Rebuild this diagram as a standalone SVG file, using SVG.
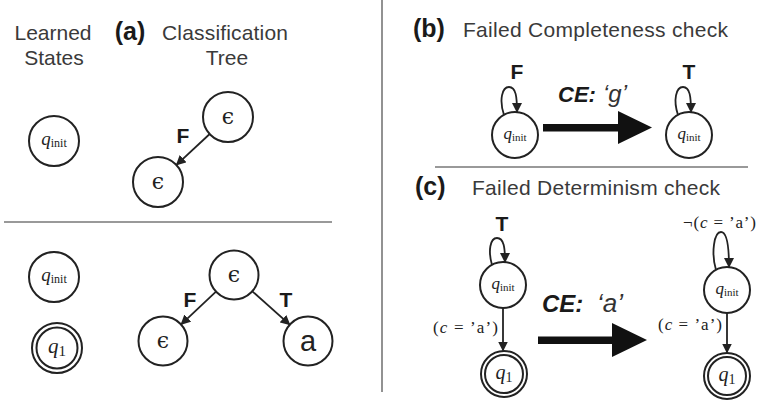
<svg xmlns="http://www.w3.org/2000/svg" width="757" height="405" viewBox="0 0 757 405">
<style>
  .title { font-family: "Liberation Sans", Arial, sans-serif; font-size: 21px; fill: #3a3a3a; }
  .bold { font-family: "Liberation Sans", Arial, sans-serif; font-weight: bold; fill: #1a1a1a; }
  .node { fill: #fff; stroke: #222; stroke-width: 2; }
  .math { font-family: "Liberation Serif", "DejaVu Serif", serif; fill: #222; }
  .eps { font-family: "DejaVu Serif", serif; font-size: 22px; fill: #222; }
  .edge { fill: none; stroke: #222; stroke-width: 1.8; }
  .div { stroke: #777; stroke-width: 1.6; }
  .big { fill: #111; }
</style>
<defs>
  <marker id="ah" markerUnits="userSpaceOnUse" markerWidth="10" markerHeight="10" viewBox="0 0 10 10" refX="9" refY="5" orient="auto">
    <path d="M0,0 L10,5 L0,10 z" fill="#222"/>
  </marker>
</defs>

<!-- dividers -->
<g id="dividers">
  <line class="div" x1="382" y1="0" x2="382" y2="392"/>
  <line class="div" x1="4" y1="222" x2="332" y2="222"/>
  <line class="div" x1="435" y1="167" x2="748" y2="167"/>
</g>

<!-- headings -->
<g id="headings">
  <text class="title" x="53" y="40" text-anchor="middle" textLength="77" lengthAdjust="spacing">Learned</text>
  <text class="title" x="54" y="65" text-anchor="middle">States</text>
  <text class="bold" x="130" y="40" text-anchor="middle" font-size="25">(a)</text>
  <text class="title" x="225" y="40" text-anchor="middle" textLength="126" lengthAdjust="spacing">Classification</text>
  <text class="title" x="227" y="65" text-anchor="middle">Tree</text>
  <text class="bold" x="413" y="37" font-size="25">(b)</text>
  <text class="title" x="463" y="37" textLength="265" lengthAdjust="spacing">Failed Completeness check</text>
  <text class="bold" x="415" y="195" font-size="25">(c)</text>
  <text class="title" x="472" y="195" textLength="248" lengthAdjust="spacing">Failed Determinism check</text>
</g>

<!-- (a) top -->
<g id="a-top-qinit">
  <circle class="node" cx="54" cy="141" r="25"/>
  <text class="math" x="54" y="145" text-anchor="middle" font-size="19"><tspan font-style="italic">q</tspan><tspan font-size="12" dy="2">init</tspan></text>
</g>
<g id="a-top-eps-root">
  <circle class="node" cx="228" cy="117" r="25"/>
  <text class="eps" x="228" y="124" text-anchor="middle">ϵ</text>
</g>
<g id="a-top-eps-f">
  <circle class="node" cx="158" cy="182" r="25"/>
  <text class="eps" x="158" y="189" text-anchor="middle">ϵ</text>
</g>

<!-- (a) bottom -->
<g id="a-bot-qinit">
  <circle class="node" cx="54" cy="277" r="25"/>
  <text class="math" x="54" y="281" text-anchor="middle" font-size="19"><tspan font-style="italic">q</tspan><tspan font-size="12" dy="2">init</tspan></text>
</g>
<g id="a-bot-q1">
  <circle class="node" cx="57" cy="348" r="25"/>
  <circle class="node" cx="57" cy="348" r="20.5"/>
  <text class="math" x="57" y="353" text-anchor="middle" font-size="21"><tspan font-style="italic">q</tspan><tspan font-size="15" dy="3">1</tspan></text>
</g>
<g id="a-bot-eps-root">
  <circle class="node" cx="234" cy="275" r="24.5"/>
  <text class="eps" x="234" y="282" text-anchor="middle">ϵ</text>
</g>
<g id="a-bot-eps-f">
  <circle class="node" cx="163" cy="341" r="24.5"/>
  <text class="eps" x="163" y="348" text-anchor="middle">ϵ</text>
</g>
<g id="a-bot-a">
  <circle class="node" cx="308" cy="341" r="24.5"/>
  <text x="308" y="351" text-anchor="middle" font-family="Liberation Sans, Arial, sans-serif" font-size="29" fill="#222">a</text>
</g>

<!-- (b) -->
<g id="b-qinit-left">
  <circle class="node" cx="515" cy="135" r="23"/>
  <text class="math" x="515" y="139" text-anchor="middle" font-size="17"><tspan font-style="italic">q</tspan><tspan font-size="11" dy="2">init</tspan></text>
</g>
<g id="b-qinit-right">
  <circle class="node" cx="689" cy="135" r="23"/>
  <text class="math" x="689" y="139" text-anchor="middle" font-size="17"><tspan font-style="italic">q</tspan><tspan font-size="11" dy="2">init</tspan></text>
</g>

<!-- (c) -->
<g id="c-qinit-left">
  <circle class="node" cx="503" cy="285" r="23"/>
  <text class="math" x="503" y="289" text-anchor="middle" font-size="17"><tspan font-style="italic">q</tspan><tspan font-size="11" dy="2">init</tspan></text>
</g>
<g id="c-q1-left">
  <circle class="node" cx="504" cy="374" r="23"/>
  <circle class="node" cx="504" cy="374" r="19"/>
  <text class="math" x="504" y="379" text-anchor="middle" font-size="20"><tspan font-style="italic">q</tspan><tspan font-size="14" dy="3">1</tspan></text>
</g>
<g id="c-qinit-right">
  <circle class="node" cx="727" cy="290" r="23"/>
  <text class="math" x="727" y="294" text-anchor="middle" font-size="17"><tspan font-style="italic">q</tspan><tspan font-size="11" dy="2">init</tspan></text>
</g>
<g id="c-q1-right">
  <circle class="node" cx="727" cy="376" r="23"/>
  <circle class="node" cx="727" cy="376" r="19"/>
  <text class="math" x="727" y="381" text-anchor="middle" font-size="20"><tspan font-style="italic">q</tspan><tspan font-size="14" dy="3">1</tspan></text>
</g>

<!-- connectors -->
<g id="connectors">
  <!-- (a) tree edges -->
  <line class="edge" x1="209.7" y1="134" x2="176.5" y2="164.8" marker-end="url(#ah)"/>
  <line class="edge" x1="216" y1="291.7" x2="181.2" y2="324.3" marker-end="url(#ah)"/>
  <line class="edge" x1="252.3" y1="291.3" x2="289.7" y2="324.7" marker-end="url(#ah)"/>
  <!-- (b) self loops -->
  <path class="edge" d="M504,115 C499,100 502,87 509,87 C516,87 517,97 517,112" marker-end="url(#ah)"/>
  <path class="edge" d="M678,115 C673,100 676,87 683,87 C690,87 691,97 691,112" marker-end="url(#ah)"/>
  <!-- (b) big arrow -->
  <rect class="big" x="543" y="124" width="77" height="7.5"/>
  <polygon class="big" points="618,111 652,127.5 618,144"/>
  <!-- (c) self loops -->
  <path class="edge" d="M492,265 C488,251 490,238 497,238 C504,238 505,248 505,262" marker-end="url(#ah)"/>
  <path class="edge" d="M716,270 C711,253 714,232 721,232 C728,232 729,251 729,267" marker-end="url(#ah)"/>
  <!-- (c) transitions -->
  <line class="edge" x1="503" y1="308" x2="503" y2="350.5" marker-end="url(#ah)"/>
  <line class="edge" x1="727" y1="313" x2="727" y2="352.5" marker-end="url(#ah)"/>
  <!-- (c) big arrow -->
  <rect class="big" x="538" y="336.5" width="76" height="7.5"/>
  <polygon class="big" points="612,323 647,340 612,357"/>
</g>

<!-- labels -->
<g id="labels">
  <text class="bold" x="183" y="143" text-anchor="middle" font-size="21">F</text>
  <text class="bold" x="190" y="307" text-anchor="middle" font-size="21">F</text>
  <text class="bold" x="286" y="307" text-anchor="middle" font-size="21">T</text>
  <text class="bold" x="517" y="79" text-anchor="middle" font-size="21">F</text>
  <text class="bold" x="689" y="79" text-anchor="middle" font-size="21">T</text>
  <text class="bold" x="558" y="102" font-size="22" font-style="italic">CE:</text>
  <text x="603" y="102" font-family="Liberation Sans, Arial, sans-serif" font-size="24" font-style="italic" fill="#333">‘g’</text>
  <text class="bold" x="502" y="231" text-anchor="middle" font-size="21">T</text>
  <text class="bold" x="542" y="312" font-size="24" font-style="italic">CE:</text>
  <text x="597" y="312" font-family="Liberation Sans, Arial, sans-serif" font-size="26" font-style="italic" fill="#333">‘a’</text>
  <text class="math" x="433" y="333" font-size="17" textLength="65" lengthAdjust="spacing">(<tspan font-style="italic">c</tspan> = ’a’)</text>
  <text class="math" x="658" y="330" font-size="17" textLength="64" lengthAdjust="spacing">(<tspan font-style="italic">c</tspan> = ’a’)</text>
  <text class="math" x="683" y="228" font-size="17" textLength="73" lengthAdjust="spacing">¬(<tspan font-style="italic">c</tspan> = ’a’)</text>
</g>
</svg>
